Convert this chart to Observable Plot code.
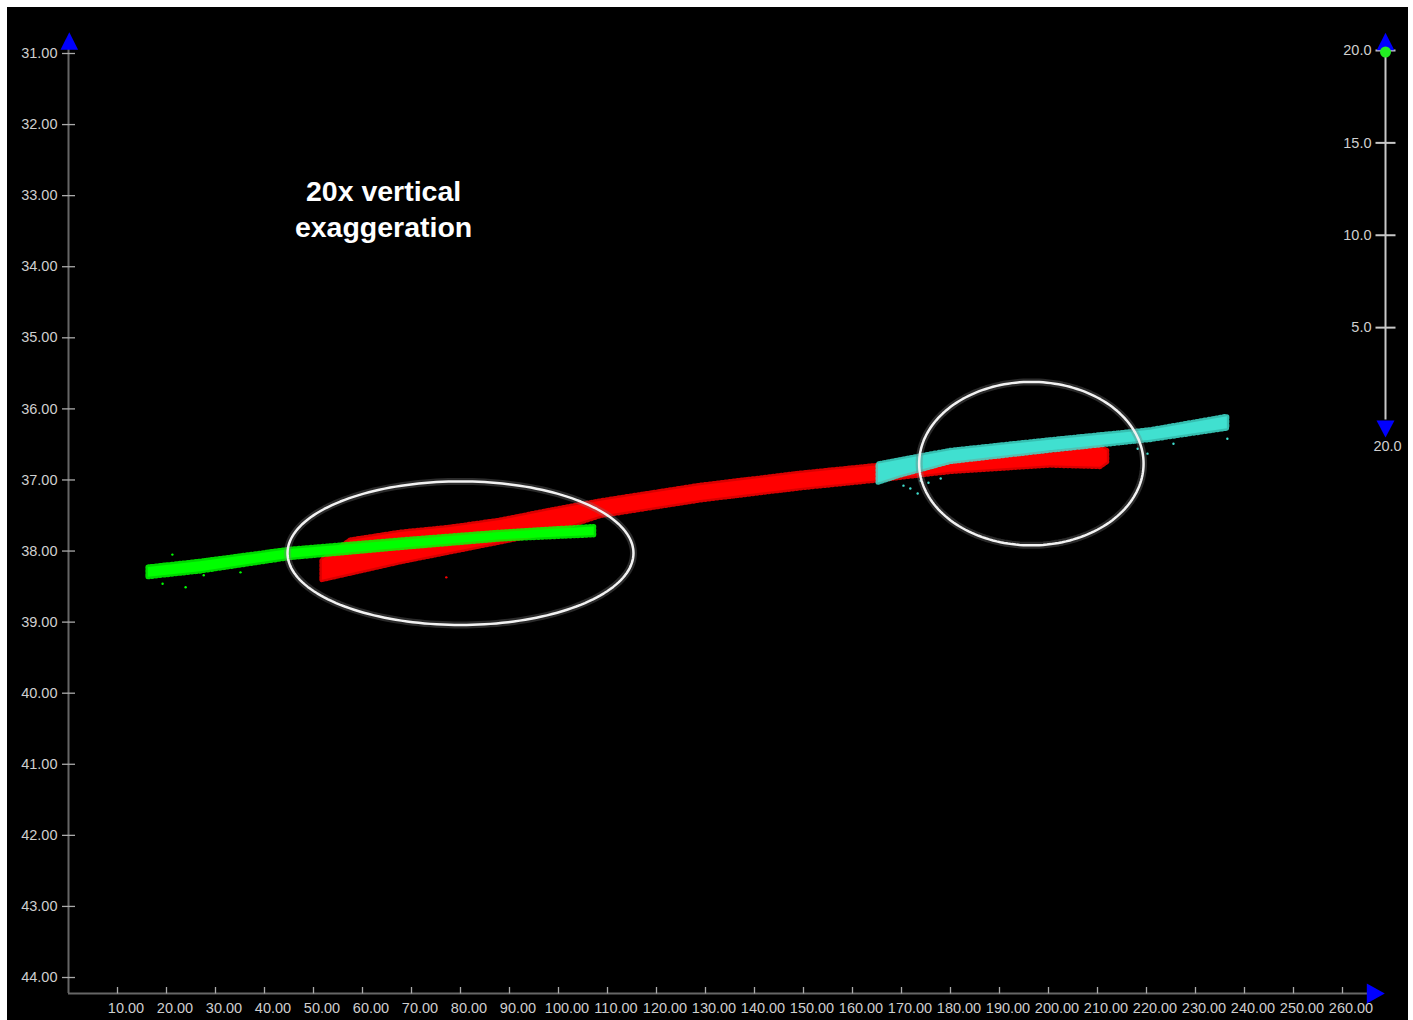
<!DOCTYPE html>
<html><head><meta charset="utf-8">
<script src="https://cdn.jsdelivr.net/npm/d3@7"></script>
<script src="https://cdn.jsdelivr.net/npm/@observablehq/plot@0.6"></script>
<style>
html,body{margin:0;padding:0;background:#fff;}
#frame{position:absolute;left:7px;top:7px;width:1401px;height:1013px;background:#000;overflow:hidden;}
#frame svg{position:absolute;left:0;top:0;}
</style></head><body><div id="frame"></div>
<script>
// ---- tick values ----
const xTicks = [10,20,30,40,50,60,70,80,90,100,110,120,130,140,150,160,170,180,190,200,210,220,230,240,250,260];
const yTicks = [31,32,33,34,35,36,37,38,39,40,41,42,43,44];
const depthTicks = [20,15,10,5];
const depthBottomLabel = "20.0";

// ---- green band (x, upper y, lower y) ----
const greenX = [16.3, 26.9, 45.3, 67.8, 88.2, 107.3];
const greenTop = [38.23, 38.15, 37.98, 37.85, 37.74, 37.66];
const greenBottom = [38.37, 38.29, 38.10, 37.96, 37.84, 37.78];

// ---- red band ----
const redX = [51.8, 57.6, 67.8, 78.0, 88.2, 98.4, 108.6, 129.0, 149.4, 163.7, 180.0, 200.4, 210.6, 212.0];
const redTop = [38.13, 37.85, 37.74, 37.67, 37.57, 37.43, 37.30, 37.08, 36.91, 36.81, 36.73, 36.63, 36.54, 36.59];
const redBottom = [38.41, 38.32, 38.16, 38.02, 37.88, 37.74, 37.51, 37.29, 37.12, 37.02, 36.89, 36.80, 36.82, 36.75];

// ---- cyan band ----
const cyanX = [165.3, 169.8, 180.0, 200.4, 220.8, 236.5];
const cyanTop = [36.78, 36.72, 36.59, 36.44, 36.30, 36.11];
const cyanBottom = [37.04, 36.94, 36.75, 36.59, 36.44, 36.28];

// ---- stray points ----
const greenSpeckX = [21.2, 19.2, 23.9, 35.1, 27.6];
const greenSpeckY = [38.05, 38.46, 38.51, 38.30, 38.34];
const redSpeckX = [77.1];
const redSpeckY = [38.37];
const cyanSpeckX = [170.4, 171.8, 173.3, 173.9, 175.5, 178.0, 218.2, 220.2, 225.5, 236.5];
const cyanSpeckY = [37.08, 37.12, 37.19, 37.01, 37.04, 36.98, 36.56, 36.63, 36.49, 36.42];

// ---- highlighted ellipses ----
const ellipseCX = [80.0, 196.5];
const ellipseCY = [38.03, 36.77];
const ellipseRX = [35.3, 22.9];
const ellipseRY = [1.01, 1.15];

// ---- annotation ----
const noteText = ["20x vertical", "exaggeration"];
const noteX = 64.3, noteY = 33.17;

// axis extents
const yAxisTop = 30.9, axisBase = 44.225, xAxisEnd = 266, xArrowAt = 266.8;

const fmt2 = d3.format(".2f"), fmt1 = d3.format(".1f");
const band = (xs, t, b) => xs.map((x, i) => ({x, y1: t[i], y2: b[i]}));
const pts = (xs, ys) => xs.map((x, i) => ({x, y: ys[i]}));
const green = band(greenX, greenTop, greenBottom);
const red = band(redX, redTop, redBottom);
const cyan = band(cyanX, cyanTop, cyanBottom);
const angles = d3.range(0, 360, 2);
const ellipses = ellipseCX.flatMap((cx, i) => angles.map(a => ({
  id: i,
  x: cx + ellipseRX[i] * Math.cos(a * Math.PI / 180),
  y: ellipseCY[i] + ellipseRY[i] * Math.sin(a * Math.PI / 180)
})));

const triUp = {draw(c){c.moveTo(0,-8.8);c.lineTo(8.8,8.8);c.lineTo(-8.8,8.8);c.closePath();}};
const triDown = {draw(c){c.moveTo(0,8.5);c.lineTo(9,-8.5);c.lineTo(-9,-8.5);c.closePath();}};
const triRight = {draw(c){c.moveTo(9,0);c.lineTo(-9,-10);c.lineTo(-9,10);c.closePath();}};
const hTick = {draw(c){c.moveTo(-6.5,0);c.lineTo(6.5,0);}};
const vTick = {draw(c){c.moveTo(0,-6.5);c.lineTo(0,0);}};
const hTickWide = {draw(c){c.moveTo(-10,0);c.lineTo(10,0);}};

const labelColor = "#cfcfcf", font = "Liberation Sans, Arial, sans-serif";

function bandMarks(data, color) {
  return [
    Plot.areaY(data, {x: "x", y1: "y1", y2: "y2", fill: "none", stroke: color, strokeWidth: 5, strokeDasharray: "1.5,2.5", strokeOpacity: 0.85}),
    Plot.areaY(data, {x: "x", y1: "y1", y2: "y2", fill: color})
  ];
}

const main = Plot.plot({
  width: 1401, height: 1013,
  style: {background: "#000", fontFamily: font, overflow: "visible"},
  x: {domain: [0, 260], range: [61, 1335], axis: null},
  y: {domain: [31, axisBase], range: [46, 986], axis: null},
  marks: [
    // bands
    ...bandMarks(red, "#ff0000"),
    Plot.dot(pts(redSpeckX, redSpeckY), {x: "x", y: "y", r: 1.2, fill: "#ff0000"}),
    ...bandMarks(green, "#00ff00"),
    Plot.dot(pts(greenSpeckX, greenSpeckY), {x: "x", y: "y", r: 1.2, fill: "#00ff00"}),
    ...bandMarks(cyan, "#40e0d0"),
    Plot.dot(pts(cyanSpeckX, cyanSpeckY), {x: "x", y: "y", r: 1.2, fill: "#40e0d0"}),
    // ellipses
    Plot.line(ellipses, {x: "x", y: "y", z: "id", curve: "linear-closed", stroke: "#777", strokeOpacity: 0.35, strokeWidth: 7}),
    Plot.line(ellipses, {x: "x", y: "y", z: "id", curve: "linear-closed", stroke: "#f2f2f2", strokeWidth: 2.5}),
    // annotation
    Plot.text([noteText.join("\n")], {x: () => noteX, y: () => noteY, text: d => d, fill: "#fff", fontSize: 28.5, fontWeight: "bold", fontFamily: font, lineHeight: 1.25}),
    // axes
    Plot.ruleX([0], {y1: yAxisTop, y2: axisBase, stroke: "#666", strokeWidth: 2}),
    Plot.ruleY([axisBase], {x1: 0, x2: xAxisEnd, stroke: "#666", strokeWidth: 2}),
    Plot.dot(yTicks, {x: 0, y: d => d, symbol: hTick, fill: "none", stroke: "#aaa", strokeWidth: 1.3}),
    Plot.dot(xTicks, {x: d => d, y: axisBase, symbol: vTick, fill: "none", stroke: "#aaa", strokeWidth: 1.3}),
    Plot.text(yTicks, {x: 0, y: d => d, text: fmt2, dx: -11, textAnchor: "end", fill: labelColor, fontSize: 14.5}),
    Plot.text(xTicks, {x: d => d, y: axisBase, text: fmt2, dx: 8.5, dy: 15, fill: labelColor, fontSize: 14.5}),
    Plot.dot([31], {x: 0, y: d => d, dy: -12.5, dx: 0.8, symbol: triUp, fill: "#0000ff", stroke: "none"}),
    Plot.dot([xArrowAt], {x: d => d, y: axisBase, symbol: triRight, fill: "#0000ff", stroke: "none"})
  ]
});

const widget = Plot.plot({
  width: 1401, height: 1013,
  style: {background: "transparent", fontFamily: font, overflow: "visible"},
  x: {domain: [0, 1], range: [1378, 1400], axis: null},
  y: {domain: [0, 20], range: [412.5, 43], axis: null},
  marks: [
    Plot.ruleX([0], {y1: 0, y2: 20, stroke: "#c8c8c8", strokeWidth: 2}),
    Plot.dot(depthTicks, {x: 0, y: d => d, symbol: hTickWide, fill: "none", stroke: "#c8c8c8", strokeWidth: 2}),
    Plot.text(depthTicks, {x: 0, y: d => d, text: fmt1, dx: -14, textAnchor: "end", fill: labelColor, fontSize: 14.5}),
    Plot.dot([20], {x: 0, y: d => d, dy: -9, symbol: triUp, fill: "#0000ff", stroke: "none"}),
    Plot.dot([0], {x: 0, y: d => d, dy: 9, symbol: triDown, fill: "#0000ff", stroke: "none"}),
    Plot.text([depthBottomLabel], {x: () => 0, y: () => 0, text: d => d, dx: 2, dy: 26, fill: labelColor, fontSize: 14.5}),
    Plot.dot([20], {x: 0, y: d => d, dy: 1.5, r: 5.5, fill: "#22ee22", stroke: "none"})
  ]
});

const frame = document.getElementById("frame");
frame.appendChild(main);
frame.appendChild(widget);
</script></body></html>
